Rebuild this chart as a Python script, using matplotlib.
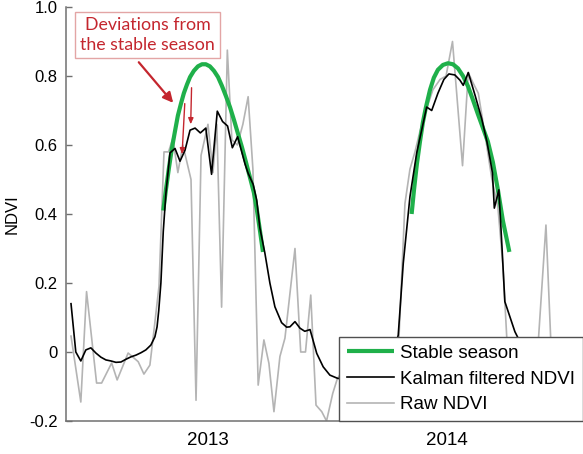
import numpy as np
import matplotlib
matplotlib.use('Agg')
import matplotlib.pyplot as plt

plt.rcParams['font.family'] = ['Liberation Sans', 'DejaVu Sans']

# time axis in decimal years (8-day composites)
raw_t = [2012.926, 2012.967, 2012.991, 2013.033, 2013.054, 2013.096, 2013.119,
         2013.165, 2013.207, 2013.231, 2013.256, 2013.271, 2013.294, 2013.315,
         2013.334, 2013.352, 2013.373, 2013.394, 2013.428, 2013.449, 2013.470,
         2013.499, 2013.520, 2013.536, 2013.556, 2013.580, 2013.599, 2013.622,
         2013.645, 2013.667, 2013.687, 2013.709, 2013.733, 2013.754, 2013.775,
         2013.800, 2013.821, 2013.863, 2013.887, 2013.907, 2013.929, 2013.951,
         2013.975, 2013.995, 2014.021, 2014.039, 2014.064, 2014.093, 2014.118,
         2014.143, 2014.168, 2014.193, 2014.219, 2014.244, 2014.269, 2014.298,
         2014.323, 2014.344, 2014.365, 2014.386, 2014.411, 2014.440, 2014.470,
         2014.495, 2014.522, 2014.564, 2014.588, 2014.608, 2014.630, 2014.658,
         2014.687, 2014.712, 2014.733, 2014.750, 2014.771, 2014.804, 2014.825,
         2014.855, 2014.880, 2014.913, 2014.934, 2014.963, 2014.993, 2015.022,
         2015.055]
raw_ndvi = [0.046, -0.145, 0.175, -0.09, -0.09, -0.032, -0.081,
            -0.003, -0.028, -0.064, -0.038, 0.05, 0.19, 0.58,
            0.58, 0.62, 0.52, 0.60, 0.50, -0.14, 0.57,
            0.66, 0.52, 0.66, 0.13, 0.875, 0.615, 0.60,
            0.66, 0.74, 0.53, -0.096, 0.035, -0.033, -0.173,
            -0.013, 0.04, 0.30, 0.0, 0.0, 0.165, -0.154,
            -0.173, -0.2, -0.12, -0.08, -0.05, -0.12, -0.03,
            -0.1, -0.06, -0.02, -0.09, -0.04, -0.01, 0.04,
            0.43, 0.53, 0.58, 0.64, 0.70, 0.76, 0.79,
            0.80, 0.90, 0.54, 0.81, 0.78, 0.75, 0.63,
            0.50, 0.42, 0.25, 0.03, -0.08, 0.0, -0.06,
            -0.1, 0.02, 0.368, 0.02, -0.09, -0.04, -0.11,
            -0.05]

kal_t = [2012.926, 2012.946, 2012.967, 2012.988, 2013.009, 2013.030, 2013.051,
         2013.072, 2013.093, 2013.114, 2013.135, 2013.156, 2013.177, 2013.198,
         2013.219, 2013.239, 2013.260, 2013.277, 2013.286, 2013.293, 2013.302,
         2013.312, 2013.323, 2013.340, 2013.361, 2013.382, 2013.403, 2013.424,
         2013.445, 2013.467, 2013.490, 2013.514, 2013.538, 2013.560, 2013.581,
         2013.601, 2013.623, 2013.654, 2013.667, 2013.688, 2013.703, 2013.716,
         2013.737, 2013.758, 2013.779, 2013.807, 2013.828, 2013.842, 2013.863,
         2013.884, 2013.904, 2013.926, 2013.954, 2013.981, 2014.009, 2014.040,
         2014.072, 2014.114, 2014.156, 2014.198, 2014.239, 2014.273, 2014.295,
         2014.316, 2014.344, 2014.372, 2014.393, 2014.414, 2014.435, 2014.461,
         2014.486, 2014.507, 2014.532, 2014.553, 2014.567, 2014.588, 2014.616,
         2014.644, 2014.666, 2014.689, 2014.697, 2014.716, 2014.729, 2014.741,
         2014.783, 2014.804, 2014.846, 2014.909, 2014.971, 2015.034]
kal_ndvi = [0.14, 0.0, -0.026, 0.006, 0.012, -0.003, -0.015,
            -0.023, -0.026, -0.03, -0.029, -0.021, -0.014, -0.009,
            -0.002, 0.006, 0.02, 0.044, 0.073, 0.12, 0.2,
            0.35, 0.46, 0.577, 0.59, 0.553, 0.585, 0.643,
            0.649, 0.635, 0.649, 0.515, 0.698, 0.668, 0.655,
            0.592, 0.624, 0.545, 0.518, 0.486, 0.44, 0.36,
            0.287, 0.2, 0.131, 0.085, 0.072, 0.073, 0.088,
            0.069, 0.06, 0.065, -0.004, -0.043, -0.067, -0.076,
            -0.08, -0.085, -0.08, -0.06, -0.04, -0.01, 0.049,
            0.257, 0.45, 0.576, 0.643, 0.71, 0.70, 0.75,
            0.79, 0.806, 0.803, 0.788, 0.773, 0.81, 0.745,
            0.677, 0.61, 0.52, 0.417, 0.47, 0.305, 0.146,
            0.059, 0.03, -0.02, 0.0, -0.03, -0.04]

# stable season fits
s13_t = [2013.312, 2013.323, 2013.336, 2013.348, 2013.361, 2013.373, 2013.386,
         2013.398, 2013.411, 2013.424, 2013.440, 2013.457, 2013.474, 2013.490,
         2013.507, 2013.524, 2013.541, 2013.557, 2013.574, 2013.591, 2013.608,
         2013.624, 2013.641, 2013.658, 2013.675, 2013.691, 2013.704, 2013.716,
         2013.729]
s13_ndvi = [0.41, 0.47, 0.535, 0.59, 0.64, 0.685, 0.72,
            0.75, 0.775, 0.797, 0.815, 0.828, 0.834, 0.834,
            0.828, 0.815, 0.797, 0.772, 0.742, 0.71, 0.672,
            0.634, 0.594, 0.55, 0.505, 0.462, 0.41, 0.354,
            0.29]
s14_t = [2014.351, 2014.361, 2014.373, 2014.386, 2014.398, 2014.411, 2014.428,
         2014.444, 2014.461, 2014.482, 2014.503, 2014.524, 2014.545, 2014.566,
         2014.587, 2014.608, 2014.628, 2014.649, 2014.670, 2014.691, 2014.712,
         2014.733, 2014.760]
s14_ndvi = [0.40, 0.47, 0.545, 0.61, 0.665, 0.71, 0.76,
            0.795, 0.818, 0.832, 0.837, 0.834, 0.822, 0.80,
            0.77, 0.73, 0.69, 0.65, 0.61, 0.55, 0.47,
            0.38, 0.29]

year_pos = [2013.5, 2014.5]
year_labels = ['2013', '2014']
yticks = [-0.2, 0, 0.2, 0.4, 0.6, 0.8, 1.0]
ytick_labels = ['-0.2', '0', '0.2', '0.4', '0.6', '0.8', '1.0']

green = '#1fb04a'
red = '#c4262e'
spine_col = '#707070'

fig = plt.figure(figsize=(5.83, 4.54), dpi=100)
ax = fig.add_axes([0.1132, 0.0727, 0.8868, 0.9119])

ax.plot(raw_t, raw_ndvi, color='#b4b4b4', lw=1.2, label='Raw NDVI', zorder=1)
ax.plot(s13_t, s13_ndvi, color=green, lw=3.0, solid_capstyle='butt',
        label='Stable season', zorder=2)
ax.plot(s14_t, s14_ndvi, color=green, lw=3.0, solid_capstyle='butt', zorder=2)
ax.plot(kal_t, kal_ndvi, color='black', lw=1.2, label='Kalman filtered NDVI', zorder=3)

ax.set_xlim(2012.905, 2015.068)
ax.set_ylim(-0.2, 1.0)
ax.set_xticks(year_pos)
ax.set_xticklabels(year_labels, fontsize=13.5)
ax.set_yticks(yticks)
ax.set_yticklabels(ytick_labels, fontsize=12)
ax.tick_params(axis='x', length=0, pad=8)
ax.tick_params(axis='y', direction='in', length=4, width=1, color=spine_col, pad=6)
ax.set_ylabel('NDVI', fontsize=12, labelpad=7)

for side in ['top', 'right']:
    ax.spines[side].set_visible(False)
for side in ['left', 'bottom']:
    ax.spines[side].set_color(spine_col)
    ax.spines[side].set_linewidth(1.1)

# annotation box and arrows
ax.text(0.1576, 0.932, 'Deviations from\nthe stable season', transform=ax.transAxes,
        ha='center', va='center', color=red, fontsize=12.8, family=['Lato', 'DejaVu Sans'],
        linespacing=1.3,
        bbox=dict(boxstyle='square,pad=0.3', fc='white', ec='#e3a5a5', lw=1))
ax.annotate('', xy=(2013.361, 0.716), xytext=(2013.202, 0.846),
            arrowprops=dict(arrowstyle='-|>,head_length=0.6,head_width=0.3',
                            color=red, lw=1.6))
ax.annotate('', xy=(2013.390, 0.565), xytext=(2013.4025, 0.728),
            arrowprops=dict(arrowstyle='-|>,head_length=0.35,head_width=0.15',
                            color=red, lw=1.0))
ax.annotate('', xy=(2013.4264, 0.652), xytext=(2013.4306, 0.774),
            arrowprops=dict(arrowstyle='-|>,head_length=0.35,head_width=0.15',
                            color=red, lw=1.0))

handles, labels = ax.get_legend_handles_labels()
order = [1, 2, 0]
leg = ax.legend([handles[i] for i in order], [labels[i] for i in order],
                loc='lower left', bbox_to_anchor=(0.528, 0.0), borderaxespad=0,
                fontsize=13.5, frameon=True, fancybox=False, framealpha=1,
                handlelength=2.5, handletextpad=0.33, labelspacing=0.45,
                borderpad=0.42)
leg.get_frame().set_edgecolor('#505050')
leg.get_frame().set_linewidth(1.0)
leg.set_zorder(5)

fig.savefig('out.png', dpi=100)
